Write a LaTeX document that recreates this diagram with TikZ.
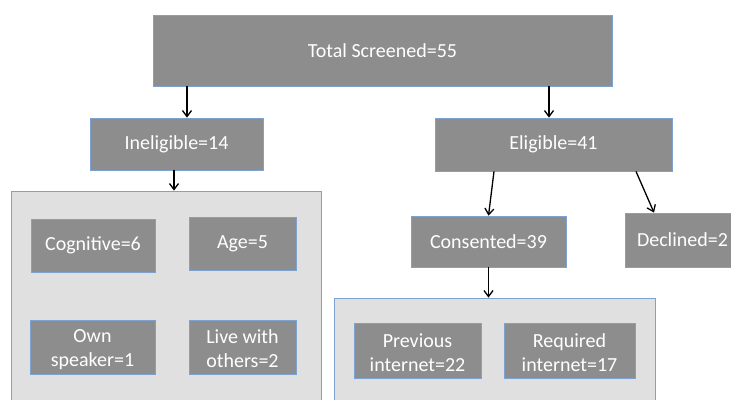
\documentclass[tikz,border=0pt]{standalone}
\usepackage{fontspec}
\setmainfont{Carlito}
\usetikzlibrary{arrows.meta}
\definecolor{boxgrey}{RGB}{141,141,141}
\definecolor{groupgrey}{RGB}{224,224,224}
\definecolor{edgeblue}{RGB}{125,162,210}
\begin{document}
\begin{tikzpicture}[x=1pt,y=-1pt,
    countbox/.style={draw=edgeblue,line width=0.8pt,fill=boxgrey,text=white,
      inner sep=0pt,align=center,font=\fontsize{20}{24}\selectfont},
    twoline/.style={countbox,text height=42pt},
    groupbox/.style={draw=edgeblue,line width=0.8pt,fill=groupgrey,inner sep=0pt},
    arr/.style={-{Straight Barb[length=6pt,width=9pt]},line width=1.3pt}]
  \useasboundingbox (0,0) rectangle (731,399);
  \clip (0,0) rectangle (731,399);
  % groups
  \node[groupbox,minimum width=310pt,minimum height=240pt] (leftgrp) at (166,311) {};
  \node[groupbox,minimum width=321pt,minimum height=240pt] (rightgrp) at (494.5,418) {};
  % boxes
  \node[countbox,minimum width=459pt,minimum height=71pt] (total) at (382.5,50.5) {Total Screened=55};
  \node[countbox,minimum width=173pt,minimum height=52pt] (inel) at (176.5,144) {Ineligible=14};
  \node[countbox,minimum width=237pt,minimum height=53pt] (elig) at (553.5,144.5) {Eligible=41};
  \node[countbox,minimum width=124pt,minimum height=53pt] (cog) at (93,245.5) {Cognitive=6};
  \node[countbox,minimum width=107pt,minimum height=53pt] (age) at (242.5,243.5) {Age=5};
  \node[twoline,minimum width=125pt,minimum height=54pt] (own) at (92.5,347) {Own\\speaker=1};
  \node[twoline,minimum width=107pt,minimum height=54pt] (live) at (242.5,347) {Live with\\others=2};
  \node[countbox,minimum width=155pt,minimum height=51pt] (cons) at (488.5,241.5) {Consented=39};
  \node[countbox,minimum width=115pt,minimum height=54pt] (decl) at (682.5,240) {Declined=2};
  \node[twoline,minimum width=127pt,minimum height=55pt] (prev) at (417.5,350.5) {Previous\\internet=22};
  \node[twoline,minimum width=131pt,minimum height=55pt] (req) at (569.5,350.5) {Required\\internet=17};
  \begin{scope}[arr]
    \draw ([xshift=10.5]inel.north |- total.south) to ([xshift=10.5]inel.north);
    \draw ([xshift=-4.5]elig.north |- total.south) to ([xshift=-4.5]elig.north);
    \draw ([xshift=-2.5]inel.south) to ([xshift=-2.5]inel.south |- leftgrp.north);
    \draw ([xshift=-59.5]elig.south) to (cons.north);
    \draw ([xshift=82.5]elig.south) to ([xshift=-28.5]decl.north);
    \draw (cons.south) to (cons.south |- rightgrp.north);
  \end{scope}
\end{tikzpicture}
\end{document}
